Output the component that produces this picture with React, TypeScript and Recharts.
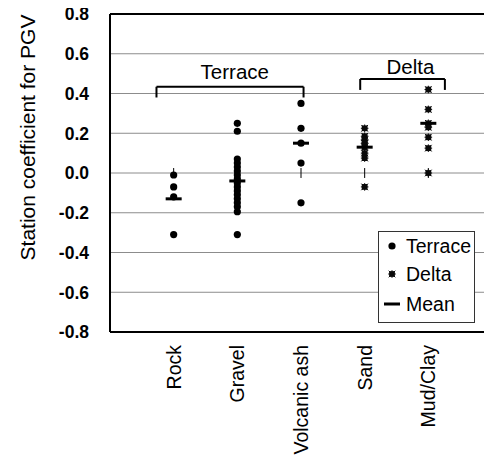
import React from 'react';
import {
  ScatterChart, Scatter, XAxis, YAxis, CartesianGrid, ReferenceLine, ReferenceDot, Legend,
} from 'recharts';

const categories = ['Rock', 'Gravel', 'Volcanic ash', 'Sand', 'Mud/Clay'];
const rockValues = [-0.01, -0.07, -0.12, -0.31];
const gravelValues = [0.25, 0.21, 0.07, 0.05, 0.03, 0.01, -0.01, -0.03, -0.05, -0.07, -0.09, -0.11, -0.13, -0.15, -0.17, -0.195, -0.31];
const volcanicAshValues = [0.35, 0.225, 0.15, 0.05, -0.15];
const sandValues = [0.225, 0.185, 0.165, 0.15, 0.13, 0.1, 0.075, -0.07];
const mudClayValues = [0.42, 0.32, 0.25, 0.23, 0.18, 0.125, 0.0];
const meanValues = [-0.13, -0.04, 0.15, 0.13, 0.25];
const yTicks = [-0.8, -0.6, -0.4, -0.2, 0, 0.2, 0.4, 0.6, 0.8];
const xTicks = [1, 2, 3, 4, 5];

// annotations (data units)
const terraceBracket = { x1: 0.73, x2: 3.04, top: 0.434, end: 0.38, labelX: 1.96, labelY: 0.51, text: 'Terrace' };
const deltaBracket = { x1: 3.93, x2: 5.26, top: 0.473, end: 0.418, labelX: 4.72, labelY: 0.535, text: 'Delta' };
const zeroTickHalf = 0.025;

const FONT = '"Liberation Sans", Arial, Helvetica, sans-serif';

const toPoints = (vals: number[], idx: number) => vals.map((y) => ({ x: idx + 1, y }));
const terraceData = [
  ...toPoints(rockValues, 0),
  ...toPoints(gravelValues, 1),
  ...toPoints(volcanicAshValues, 2),
];
const deltaData = [...toPoints(sandValues, 3), ...toPoints(mudClayValues, 4)];
const meanData = meanValues.map((y, i) => ({ x: i + 1, y }));

const TerraceDot = (p: any) => <circle cx={p.cx} cy={p.cy} r={3.6} fill="#000" />;
const DeltaMark = (p: any) => {
  const { cx, cy } = p;
  return (
    <g>
      <rect x={cx - 2.9} y={cy - 2.9} width={5.8} height={5.8} fill="#0a0a0a" />
      <path
        d={`M${cx - 3.8},${cy}H${cx + 3.8}M${cx},${cy - 3.8}V${cy + 3.8}M${cx - 3.3},${cy - 3.3}L${cx + 3.3},${cy + 3.3}M${cx - 3.3},${cy + 3.3}L${cx + 3.3},${cy - 3.3}`}
        stroke="#0a0a0a"
        strokeWidth={1}
      />
    </g>
  );
};
const MeanDash = (p: any) => <rect x={p.cx - 8} y={p.cy - 1.5} width={16} height={3} fill="#000" />;

const YTick = (p: any) => (
  <text x={p.x} y={p.y} dy="0.36em" textAnchor="end" fontFamily={FONT} fontSize={17.5} fontWeight="bold" fill="#000">
    {Number(p.payload.value).toFixed(1)}
  </text>
);

const XTick = (p: any) => {
  const label = categories[Math.round(p.payload.value) - 1] ?? '';
  const x = p.x;
  const y = p.y + 5;
  return (
    <text x={x} y={y} dy="0.36em" textAnchor="end" transform={`rotate(-90, ${x}, ${y})`} fontFamily={FONT} fontSize={19.5} fill="#000">
      {label}
    </text>
  );
};

const YLabel = (p: any) => {
  const vb = p.viewBox || { x: 0, y: 0 };
  const x = vb.x + 27;
  const y = vb.y + 123.5;
  return (
    <text x={x} y={y} dy="0.36em" textAnchor="middle" transform={`rotate(-90, ${x}, ${y})`} fontFamily={FONT} fontSize={21} fill="#000">
      Station coefficient for PGV
    </text>
  );
};

const legendItems = [
  { label: 'Terrace', kind: 'terrace' },
  { label: 'Delta', kind: 'delta' },
  { label: 'Mean', kind: 'mean' },
];

const LegendBox = () => (
  <div style={{ border: '1px solid #333', background: '#fff', width: 97, height: 92, boxSizing: 'border-box', position: 'relative', fontFamily: FONT, fontSize: 19.5 }}>
    {legendItems.map((it, i) => {
      const top = [14, 42, 72][i];
      return (
        <div key={it.label} style={{ position: 'absolute', left: 0, top: top - 12, height: 24, display: 'flex', alignItems: 'center', whiteSpace: 'nowrap' }}>
          <svg width={26} height={24} style={{ display: 'block' }}>
            {it.kind === 'terrace' && <TerraceDot cx={13} cy={12} />}
            {it.kind === 'delta' && <DeltaMark cx={13} cy={12} />}
            {it.kind === 'mean' && <MeanDash cx={13} cy={12} />}
          </svg>
          <span style={{ marginLeft: 1, lineHeight: '24px', color: '#000' }}>{it.label}</span>
        </div>
      );
    })}
  </div>
);

const brackets = [terraceBracket, deltaBracket];

export default function App() {
  return (
    <div style={{ margin: '-8px 0 0 -8px', width: 492, height: 461 }}>
      <ScatterChart width={492} height={461} margin={{ top: 14, right: 0, bottom: 0, left: 0 }}>
        <CartesianGrid vertical={false} stroke="#8c8c8c" strokeWidth={1} />
        <XAxis
          type="number"
          dataKey="x"
          domain={[0, 6]}
          ticks={xTicks}
          height={129}
          tickLine={false}
          axisLine={{ stroke: '#000', strokeWidth: 2 }}
          tick={<XTick />}
          interval={0}
          allowDataOverflow
        />
        <YAxis
          type="number"
          dataKey="y"
          domain={[-0.8, 0.8]}
          ticks={yTicks}
          width={110}
          tickLine={false}
          tickSize={0}
          tickMargin={21}
          axisLine={{ stroke: '#000', strokeWidth: 2 }}
          tick={<YTick />}
          interval={0}
          allowDataOverflow
          label={<YLabel />}
        />
        <ReferenceLine y={0.8} stroke="#000" strokeWidth={2} />
        {xTicks.map((x) => (
          <ReferenceLine key={`zt${x}`} segment={[{ x, y: -zeroTickHalf }, { x, y: zeroTickHalf }]} stroke="#000" strokeWidth={1} />
        ))}
        {brackets.map((b) => (
          <ReferenceLine key={`bt${b.text}`} segment={[{ x: b.x1, y: b.top }, { x: b.x2, y: b.top }]} stroke="#000" strokeWidth={2} />
        ))}
        {brackets.map((b) => (
          <ReferenceLine key={`bl${b.text}`} segment={[{ x: b.x1, y: b.top }, { x: b.x1, y: b.end }]} stroke="#000" strokeWidth={2} />
        ))}
        {brackets.map((b) => (
          <ReferenceLine key={`br${b.text}`} segment={[{ x: b.x2, y: b.top }, { x: b.x2, y: b.end }]} stroke="#000" strokeWidth={2} />
        ))}
        {brackets.map((b) => (
          <ReferenceDot
            key={`lab${b.text}`}
            x={b.labelX}
            y={b.labelY}
            r={0}
            fill="none"
            stroke="none"
            label={{ value: b.text, position: 'center', fill: '#000', fontSize: 20.5, fontFamily: FONT }}
          />
        ))}
        <Scatter name="Terrace" data={terraceData} shape={TerraceDot} isAnimationActive={false} />
        <Scatter name="Delta" data={deltaData} shape={DeltaMark} isAnimationActive={false} />
        <Scatter name="Mean" data={meanData} shape={MeanDash} isAnimationActive={false} />
        <Legend
          layout="vertical"
          align="center"
          verticalAlign="middle"
          content={<LegendBox />}
          wrapperStyle={{ left: 378, top: 231, width: 97, height: 92 }}
        />
      </ScatterChart>
    </div>
  );
}
